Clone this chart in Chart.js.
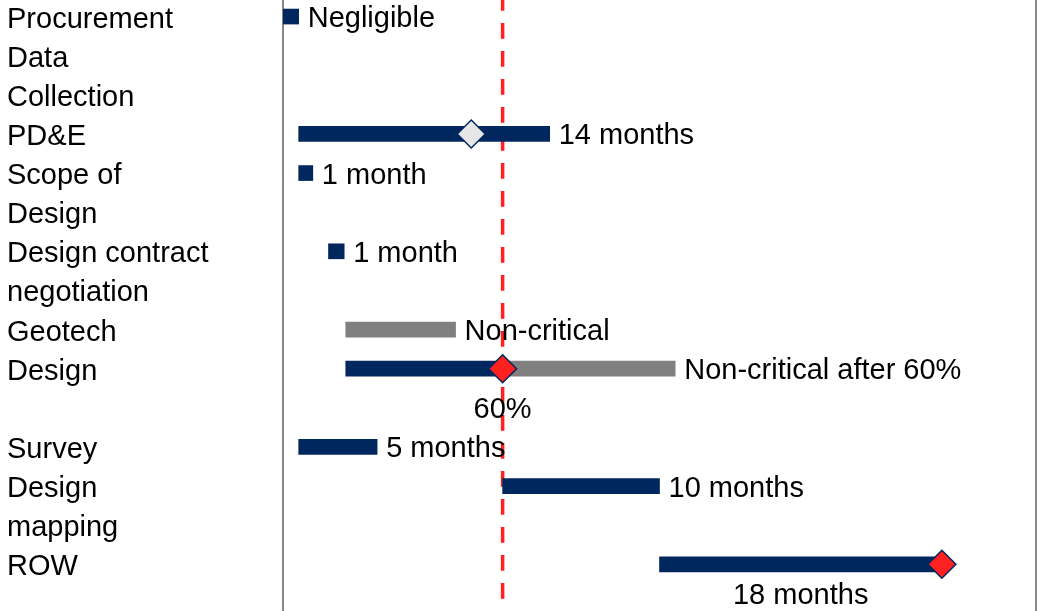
<!DOCTYPE html>
<html>
<head>
<meta charset="utf-8">
<script src="https://cdn.jsdelivr.net/npm/chart.js@4/dist/chart.umd.min.js"></script>
<style>
  html, body { margin: 0; padding: 0; background: #fff; overflow: hidden; }
  #wrap { position: absolute; left: 0; top: -3px; width: 1043px; height: 626px; }
</style>
</head>
<body>
<div id="wrap"><canvas id="myChart"></canvas></div>
<script>
// activity names, split into the lines they are printed on
var activities = [
    ['Procurement'],
    ['Data', 'Collection'],
    ['PD&E'],
    ['Scope of', 'Design'],
    ['Design contract', 'negotiation'],
    ['Geotech'],
    ['Design', ''],
    ['Survey'],
    ['Design', 'mapping'],
    ['ROW', '']
];
// months from project start
var criticalStart = [0, null, 1, 1, 2.9, null, 4, 1, 14, 24];
var criticalEnd   = [1, null, 17, 1.9, 3.9, null, 14, 6, 24, 42];
var slackStart    = [null, null, null, null, null, 4, 14, null, null, null];
var slackEnd      = [null, null, null, null, null, 11, 25, null, null, null];
var statusPoint   = [null, null, 12, null, null, null, null, null, null, null];
var milestones    = [null, null, null, null, null, null, 14, null, null, 42];

var sideNotes      = ['Negligible', '', '14 months', '1 month', '1 month', 'Non-critical', 'Non-critical after 60%', '5 months', '10 months', ''];
var milestoneNotes = ['', '', '', '', '', '', '60%', '', '', ''];
var barNotes       = ['', '', '', '', '', '', '', '', '', '18 months'];

var cutoffMonth = 14;
var lastMonth = 48;

var navy = '#00285e';
var grey = '#808080';
var red = '#ff2020';
var font = '"Liberation Sans", Arial, sans-serif';

// every printed line gets its own row on the y axis
var rowLabels = [];
var rowOf = [];
activities.forEach(function (lines) {
    rowOf.push(rowLabels.length);
    lines.forEach(function (l) { rowLabels.push(l); });
});

function toRows(fn) {
    var out = rowLabels.map(function () { return null; });
    activities.forEach(function (a, i) { out[rowOf[i]] = fn(i); });
    return out;
}

var criticalRows = toRows(function (i) {
    return criticalStart[i] === null ? null : [criticalStart[i], criticalEnd[i]];
});
var slackRows = toRows(function (i) {
    return slackStart[i] === null ? null : [slackStart[i], slackEnd[i]];
});
var statusRows = toRows(function (i) { return statusPoint[i]; });
var milestoneRows = toRows(function (i) { return milestones[i]; });

// axes without their label padding, so the rows fill the full height
function noPadding(scale) {
    scale.paddingTop = 0;
    scale.paddingBottom = 0;
}

// red dashed "today" line, behind the bars
var cutoffLine = {
    id: 'cutoffLine',
    beforeDatasetsDraw: function (chart) {
        var ctx = chart.ctx;
        var area = chart.chartArea;
        var x = chart.scales.x.getPixelForValue(cutoffMonth);
        ctx.save();
        ctx.strokeStyle = red;
        ctx.lineWidth = 3.5;
        ctx.setLineDash([15.7, 12.3]);
        ctx.lineDashOffset = 2;
        ctx.beginPath();
        ctx.moveTo(x, area.top);
        ctx.lineTo(x, area.bottom);
        ctx.stroke();
        ctx.restore();
    }
};

// duration / status notes next to and below the bars
var barText = {
    id: 'barText',
    afterDatasetsDraw: function (chart) {
        var ctx = chart.ctx;
        var xs = chart.scales.x;
        var ys = chart.scales.y;
        ctx.save();
        ctx.font = '29px ' + font;
        ctx.fillStyle = '#000';
        ctx.textBaseline = 'middle';
        activities.forEach(function (a, i) {
            var row = rowOf[i];
            var y = ys.getPixelForValue(row) + 2.5;
            if (sideNotes[i]) {
                var end = Math.max(criticalEnd[i] || 0, slackEnd[i] || 0);
                ctx.textAlign = 'left';
                ctx.fillText(sideNotes[i], xs.getPixelForValue(end) + 9, y);
            }
            if (milestoneNotes[i]) {
                ctx.textAlign = 'center';
                ctx.fillText(milestoneNotes[i], xs.getPixelForValue(milestones[i]),
                    ys.getPixelForValue(row + 1) + 2.5);
            }
            if (barNotes[i]) {
                var mid = (criticalStart[i] + criticalEnd[i]) / 2;
                var yb = Math.min(ys.getPixelForValue(row + 1) + 2.5, chart.chartArea.bottom - 27);
                ctx.textAlign = 'center';
                ctx.fillText(barNotes[i], xs.getPixelForValue(mid), yb);
            }
        });
        ctx.restore();
    }
};

var ctx = document.getElementById('myChart').getContext('2d');
var myChart = new Chart(ctx, {
    type: 'bar',
    data: {
        labels: rowLabels,
        datasets: [{
            type: 'line',
            label: 'Status',
            data: statusRows,
            indexAxis: 'y',
            showLine: false,
            pointStyle: 'rectRot',
            pointRadius: 14,
            pointBackgroundColor: '#e6e6e6',
            pointBorderColor: navy,
            pointBorderWidth: 1.5,
            order: 0
        }, {
            type: 'line',
            label: 'Milestone',
            data: milestoneRows,
            indexAxis: 'y',
            showLine: false,
            pointStyle: 'rectRot',
            pointRadius: 14,
            pointBackgroundColor: red,
            pointBorderColor: navy,
            pointBorderWidth: 1.5,
            order: 0
        }, {
            label: 'Critical',
            data: criticalRows,
            backgroundColor: navy,
            barThickness: 15,
            grouped: false,
            order: 1
        }, {
            label: 'Non-critical',
            data: slackRows,
            backgroundColor: grey,
            barThickness: 15,
            grouped: false,
            order: 2
        }]
    },
    options: {
        indexAxis: 'y',
        responsive: true,
        maintainAspectRatio: false,
        animation: false,
        layout: {
            autoPadding: false,
            padding: { left: 7, right: 7, top: 0, bottom: 0 }
        },
        plugins: {
            legend: { display: false },
            tooltip: { enabled: false }
        },
        scales: {
            x: {
                type: 'linear',
                min: 0,
                max: lastMonth,
                display: false
            },
            y: {
                type: 'category',
                position: 'left',
                grid: { display: false },
                border: { display: true, color: '#888', width: 2 },
                ticks: {
                    autoSkip: false,
                    crossAlign: 'far',
                    labelOffset: 3,
                    color: '#000',
                    font: { family: font, size: 29 }
                },
                afterFit: function (scale) {
                    scale.width = 276;
                    noPadding(scale);
                }
            },
            y2: {
                type: 'linear',
                position: 'right',
                min: 0,
                max: 1,
                grid: { display: false, drawTicks: false },
                ticks: { display: false },
                border: { display: true, color: '#888', width: 2 },
                afterFit: function (scale) {
                    scale.width = 0;
                    noPadding(scale);
                }
            }
        }
    },
    plugins: [cutoffLine, barText]
});
</script>
</body>
</html>
